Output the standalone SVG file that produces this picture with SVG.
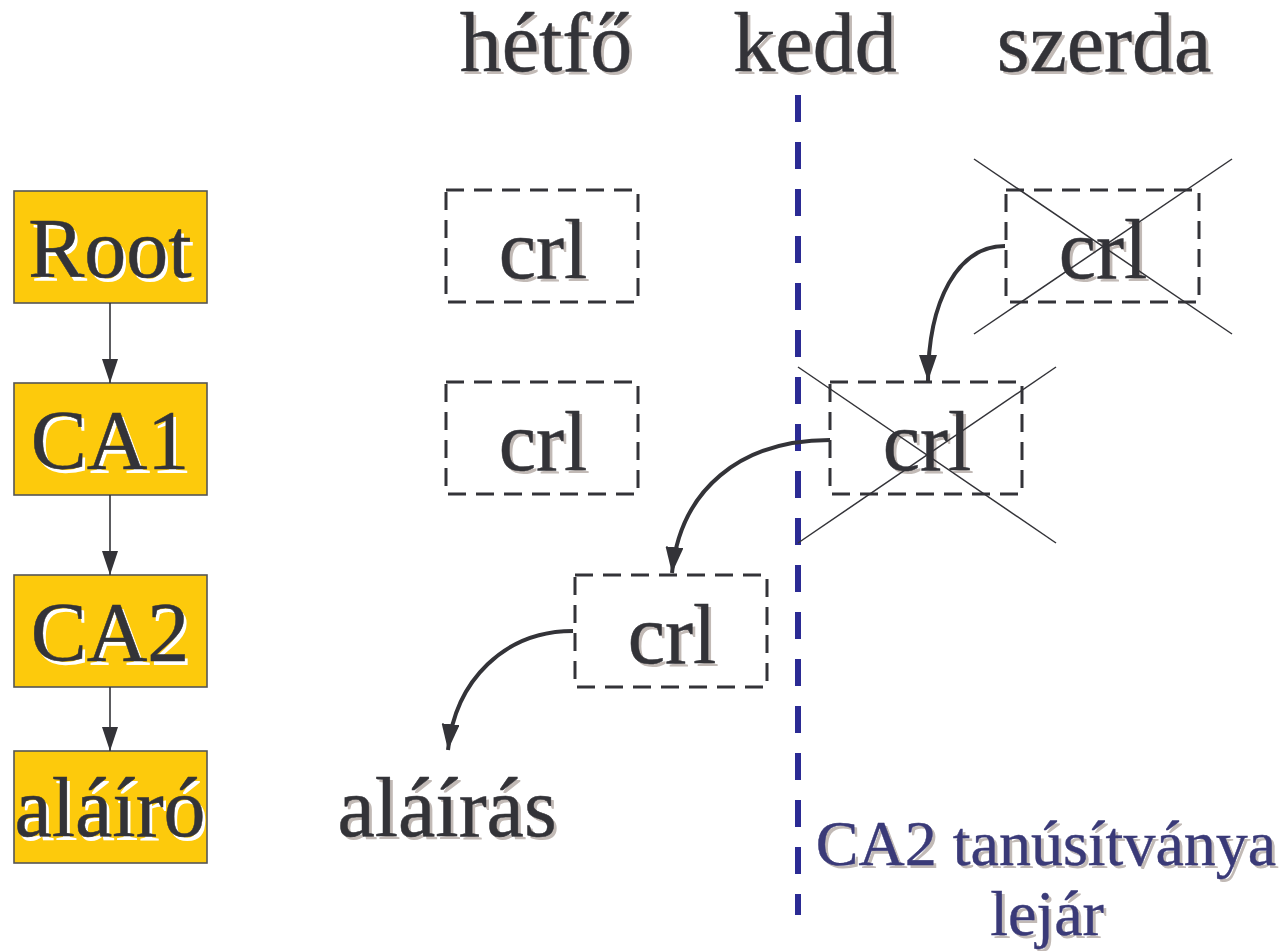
<svg xmlns="http://www.w3.org/2000/svg" width="1282" height="951" viewBox="0 0 1282 951">
  <defs>
    <marker id="tri" viewBox="0 0 24 16" refX="24" refY="8" markerWidth="24" markerHeight="16" markerUnits="userSpaceOnUse" orient="auto">
      <path d="M0,0 L24,8 L0,16 Z" fill="#333338"/>
    </marker>
    <marker id="tri-big" viewBox="0 0 26 18" refX="26" refY="9" markerWidth="26" markerHeight="18" markerUnits="userSpaceOnUse" orient="auto">
      <path d="M0,0 L26,9 L0,18 Z" fill="#333338"/>
    </marker>
  </defs>
  <style>
    .t { font-family: "Liberation Serif", "Times New Roman", serif; font-size: 84px; text-anchor: middle; }
    .ink { fill: #333338; stroke: #333338; stroke-width: 0.5; }
    .sh { fill: #c2bab6; }
    .wsh { fill: #ffffff; }
    .note { font-size: 64px; }
    .noteink { fill: #3a3a78; stroke: #3a3a78; stroke-width: 0.4; }
    .ca { fill: #fdca0c; stroke: #555555; stroke-width: 1.6; }
    .crl { fill: none; stroke: #333338; stroke-width: 3; stroke-dasharray: 18 10; }
    .cross { stroke: #333338; stroke-width: 1.5; }
    .flow { fill: none; stroke: #333338; stroke-width: 4; }
    .chain { stroke: #333338; stroke-width: 1.6; }
  </style>
  <rect width="1282" height="951" fill="#ffffff"/>

  <!-- day headings (shadow copy first, then ink) -->
  <g id="days">
    <text class="t sh" x="549" y="74">hétfő</text>
    <text class="t ink" x="546" y="71">hétfő</text>
    <text class="t sh" x="818" y="74">kedd</text>
    <text class="t ink" x="815" y="71">kedd</text>
    <text class="t sh" x="1107" y="74">szerda</text>
    <text class="t ink" x="1104" y="71">szerda</text>
  </g>

  <!-- tuesday boundary -->
  <line id="boundary" x1="798" y1="95" x2="798" y2="915" stroke="#2b2b94" stroke-width="6" stroke-dasharray="27 20"/>

  <!-- certificate chain -->
  <g id="root">
    <rect class="ca" x="14" y="191" width="193" height="112"/>
    <text class="t wsh" x="113" y="281">Root</text>
    <text class="t ink" x="110" y="277">Root</text>
  </g>
  <g id="ca1">
    <rect class="ca" x="14" y="383" width="193" height="112"/>
    <text class="t wsh" x="113" y="473">CA1</text>
    <text class="t ink" x="110" y="469">CA1</text>
  </g>
  <g id="ca2">
    <rect class="ca" x="14" y="575" width="193" height="112"/>
    <text class="t wsh" x="113" y="665">CA2</text>
    <text class="t ink" x="110" y="661">CA2</text>
  </g>
  <g id="alairo">
    <rect class="ca" x="14" y="751" width="193" height="112"/>
    <text class="t wsh" x="113" y="840">aláíró</text>
    <text class="t ink" x="110" y="836">aláíró</text>
  </g>

  <!-- CRLs -->
  <g id="crl-mon-1">
    <rect class="crl" x="446" y="190" width="192" height="112"/>
    <text class="t sh" x="546" y="281">crl</text>
    <text class="t ink" x="543" y="278">crl</text>
  </g>
  <g id="crl-mon-2">
    <rect class="crl" x="446" y="382" width="192" height="112"/>
    <text class="t sh" x="546" y="473">crl</text>
    <text class="t ink" x="543" y="470">crl</text>
  </g>
  <g id="crl-mon-3">
    <rect class="crl" x="575" y="575" width="192" height="112"/>
    <text class="t sh" x="675" y="666">crl</text>
    <text class="t ink" x="672" y="663">crl</text>
  </g>
  <g id="crl-tue">
    <rect class="crl" x="830" y="382" width="192" height="112"/>
    <text class="t sh" x="930" y="473">crl</text>
    <text class="t ink" x="927" y="470">crl</text>
    <line class="cross" x1="798" y1="367" x2="1056" y2="543"/>
    <line class="cross" x1="798" y1="543" x2="1056" y2="367"/>
  </g>
  <g id="crl-wed">
    <rect class="crl" x="1006" y="190" width="193" height="112"/>
    <text class="t sh" x="1106" y="281">crl</text>
    <text class="t ink" x="1103" y="278">crl</text>
    <line class="cross" x1="974" y1="159" x2="1232" y2="334"/>
    <line class="cross" x1="974" y1="334" x2="1232" y2="159"/>
  </g>

  <g id="signature">
    <text class="t sh" x="450" y="839">aláírás</text>
    <text class="t ink" x="447" y="836">aláírás</text>
  </g>

  <g id="expiry-note">
    <text class="t note sh" x="1049" y="868">CA2 tanúsítványa</text>
    <text class="t note noteink" x="1046" y="865">CA2 tanúsítványa</text>
    <text class="t note sh" x="1050" y="938">lejár</text>
    <text class="t note noteink" x="1047" y="935">lejár</text>
  </g>

  <!-- connectors -->
  <g id="connectors">
    <line class="chain" x1="110" y1="303" x2="110" y2="383" marker-end="url(#tri)"/>
    <line class="chain" x1="110" y1="495" x2="110" y2="575" marker-end="url(#tri)"/>
    <line class="chain" x1="110" y1="687" x2="110" y2="751" marker-end="url(#tri)"/>
    <path class="flow" d="M1005,246 C958,246 928,300 928,381" marker-end="url(#tri-big)"/>
    <path class="flow" d="M830,440 C740,440 680,490 672,573" marker-end="url(#tri-big)"/>
    <path class="flow" d="M573,631 C505,631 455,680 448,750" marker-end="url(#tri-big)"/>
  </g>
</svg>
